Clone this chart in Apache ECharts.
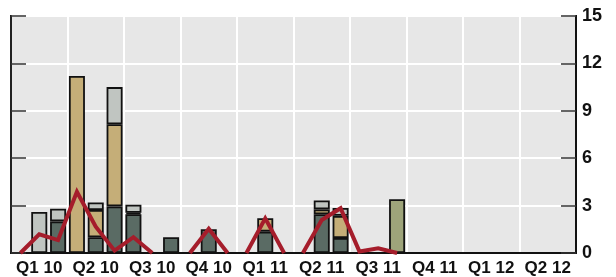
<!DOCTYPE html>
<html>
<head>
<meta charset="utf-8">
<script src="https://cdn.jsdelivr.net/npm/echarts@6/dist/echarts.min.js"></script>
<style>
  html, body { margin: 0; padding: 0; background: #fff; }
</style>
</head>
<body>
<div id="chart" style="width: 616px; height: 277px;"></div>
<script>
// quarters shown on the axis, three months in each
const quarters = ['Q1 10', 'Q2 10', 'Q3 10', 'Q4 10', 'Q1 11', 'Q2 11', 'Q3 11', 'Q4 11', 'Q1 12', 'Q2 12']
const months = []
quarters.forEach(q => { for (let m = 1; m <= 3; m++) months.push(q + ' m' + m) })

const yTicks = [0, 3, 6, 9, 12, 15]

// stacked bar values per month (0 = no bar)
const darkVals = [0, 0, 2.0, 0, 1.0, 2.95, 2.45, 0, 1.0, 0, 1.5, 0, 0, 1.35, 0, 0, 2.45, 0.95, 0, 0, 0, 0, 0, 0, 0, 0, 0, 0, 0, 0]
const tanVals = [0, 0, 0, 11.2, 1.72, 5.2, 0.1, 0, 0, 0, 0, 0, 0, 0.85, 0, 0, 0.31, 1.4, 0, 0, 0, 0, 0, 0, 0, 0, 0, 0, 0, 0]
const grayVals = [0, 2.6, 0.8, 0, 0.48, 2.35, 0.5, 0, 0, 0, 0, 0, 0, 0, 0, 0, 0.57, 0.5, 0, 0, 0, 0, 0, 0, 0, 0, 0, 0, 0, 0]
const oliveVals = [0, 0, 0, 0, 0, 0, 0, 0, 0, 0, 0, 0, 0, 0, 0, 0, 0, 0, 0, 0, 3.4, 0, 0, 0, 0, 0, 0, 0, 0, 0]

// red line, null = no data yet
const lineVals = [0, 1.18, 0.82, 3.88, 1.66, 0.15, 1.0, 0, 0, 0, 1.54, 0, 0, 2.19, 0, 0, 2.09, 2.83, 0.1, 0.3, 0, null, null, null, null, null, null, null, null, null]

const bar = (name, vals, color) => ({
  name: name,
  type: 'bar',
  stack: 'a',
  barWidth: 16,
  data: vals.map(v => (v ? v : '-')),
  itemStyle: { color: color, borderColor: '#111', borderWidth: 1.8 }
})

// the line skips runs where it just sits on zero
const lineSeries = []
let run = null
for (let i = 0; i < lineVals.length - 1; i++) {
  const a = lineVals[i]
  const b = lineVals[i + 1]
  const draw = a !== null && b !== null && !(a === 0 && b === 0)
  if (draw) {
    if (!run) { run = months.map(() => null); lineSeries.push(run) }
    run[i] = a
    run[i + 1] = b
  } else {
    run = null
  }
}

const myChart = echarts.init(document.getElementById('chart'))
myChart.setOption({
  animation: false,
  grid: {
    left: 11,
    right: 40,
    top: 16,
    bottom: 24,
    outerBoundsMode: 'none',
    show: true,
    backgroundColor: '#e7e7e7',
    borderColor: '#111',
    borderWidth: 2
  },
  xAxis: [
    {
      type: 'category',
      data: months,
      position: 'bottom',
      axisLine: { lineStyle: { color: '#111', width: 2 } },
      axisTick: { interval: 0, length: 5, lineStyle: { color: '#222', width: 1.2 } },
      axisLabel: { show: false },
      splitLine: { show: false }
    },
    {
      type: 'category',
      data: quarters,
      position: 'bottom',
      axisLine: { show: false },
      axisTick: { interval: 0, length: 8, lineStyle: { color: '#222', width: 1.5 } },
      axisLabel: {
        interval: 0,
        margin: 7,
        color: '#111',
        fontFamily: 'Liberation Sans, Arial, sans-serif',
        fontWeight: 'bold',
        fontSize: 17
      },
      splitLine: { show: true, interval: 0, lineStyle: { color: '#fff', width: 2 } }
    }
  ],
  yAxis: [
    {
      type: 'value',
      position: 'right',
      min: yTicks[0],
      max: yTicks[yTicks.length - 1],
      interval: 3,
      axisLine: { show: true, lineStyle: { color: '#111', width: 2 } },
      axisTick: { show: true, inside: true, length: 15, lineStyle: { color: '#333', width: 1.5 } },
      axisLabel: {
        margin: 6,
        color: '#111',
        fontFamily: 'Liberation Sans, Arial, sans-serif',
        fontWeight: 'bold',
        fontSize: 18
      },
      splitLine: { show: true, lineStyle: { color: '#fff', width: 2 } }
    },
    {
      type: 'value',
      position: 'left',
      min: yTicks[0],
      max: yTicks[yTicks.length - 1],
      interval: 3,
      axisLine: { show: true, lineStyle: { color: '#222', width: 2 } },
      axisTick: { show: true, inside: true, length: 15, lineStyle: { color: '#333', width: 1.5 } },
      axisLabel: { show: false },
      splitLine: { show: false }
    }
  ],
  series: [
    bar('dark', darkVals, '#5a6b64'),
    bar('tan', tanVals, '#c5ae78'),
    bar('gray', grayVals, '#c0c5c1'),
    bar('olive', oliveVals, '#9ea47a')
  ].concat(lineSeries.map(d => ({
    name: 'line',
    type: 'line',
    data: d,
    z: 5,
    symbol: 'none',
    connectNulls: false,
    lineStyle: { color: '#a51d2b', width: 4, cap: 'butt', join: 'miter' }
  })))
})
</script>
</body>
</html>
